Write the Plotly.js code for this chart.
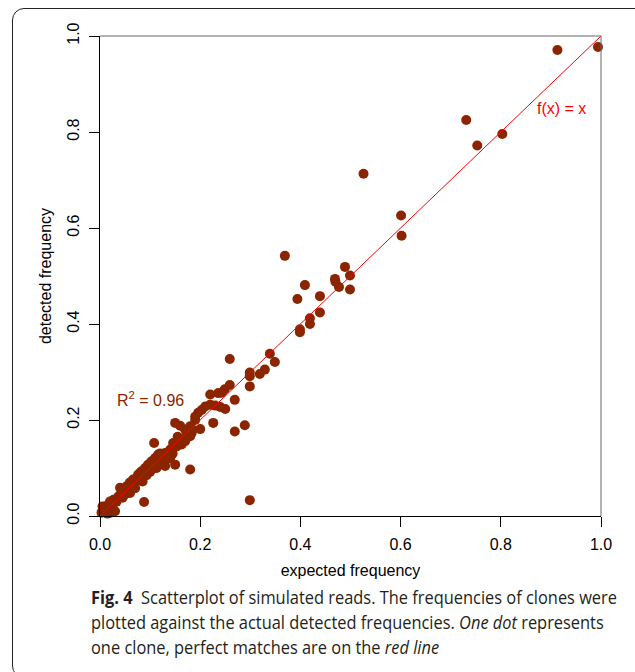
<!DOCTYPE html>
<html><head><meta charset="utf-8">
<script src="https://cdn.plot.ly/plotly-3.0.1.min.js"></script>
<style>
body{margin:0;background:#fff;}
#wrap{position:relative;width:635px;height:672px;overflow:hidden;background:#fff}
#frame{position:absolute;left:12px;top:8px;width:640px;height:670px;border:1px solid #222;border-radius:12px;box-sizing:border-box}
#chart{position:absolute;left:0;top:0;width:635px;height:672px}
#cap{position:absolute;left:91px;top:585px;font-family:'Open Sans','Noto Sans',sans-serif;font-size:18px;line-height:25px;color:#231f20;}
#cap div{white-space:nowrap;transform-origin:0 0;}
</style></head>
<body>
<div id="wrap">
<div id="frame"></div>
<div id="chart"></div>
<div id="cap">
<div class="ln"><b>Fig. 4</b>&nbsp; Scatterplot of simulated reads. The frequencies of clones were</div>
<div class="ln">plotted against the actual detected frequencies. <i>One dot</i> represents</div>
<div class="ln">one clone, perfect matches are on the <i>red line</i></div>
</div>
</div>
<script>
// expected frequency (x) and detected frequency (y) of each clone
const expected = [
 0.003,0.007,0.010,0.017,0.023,0.030,0.037,0.043,0.050,0.053,0.060,0.066,0.073,0.076,0.083,0.090,0.096,0.103,0.110,0.116,
 0.123,0.130,0.140,0.146,0.153,0.163,0.170,0.180,0.183,0.190,0.196,0.203,0.210,0.220,0.150,0.160,0.180,0.200,0.226,0.108,
 0.150,0.130,0.180,0.040,0.027,0.088,0.017,0.020,0.025,0.033,0.045,0.057,0.068,0.080,0.093,0.100,0.113,0.120,0.136,0.143,
 0.158,0.173,0.012,0.005,
 0.050,0.060,0.070,0.085,0.100,0.110,0.125,0.135,0.145,0.120,0.100,0.080,0.060,0.165,0.175,0.185,0.190,0.170,0.015,0.030,
 0.020,0.005,0.140,0.155,
 0.369,0.489,0.499,0.469,0.470,0.477,0.499,0.409,0.394,0.439,0.439,0.419,0.419,0.399,0.399,0.339,0.349,0.329,0.319,0.299,
 0.299,0.299,0.259,0.259,0.249,0.243,0.236,0.220,0.269,0.230,0.240,0.250,0.269,0.289,0.299,
 0.913,0.994,0.731,0.803,0.753,0.601,0.602,0.526
];
const detected = [
 0.007,0.014,0.020,0.024,0.027,0.034,0.041,0.048,0.055,0.062,0.069,0.076,0.079,0.086,0.093,0.100,0.107,0.114,0.121,0.128,
 0.124,0.131,0.138,0.152,0.145,0.149,0.156,0.166,0.173,0.207,0.215,0.221,0.228,0.232,0.194,0.188,0.187,0.181,0.194,0.152,
 0.107,0.104,0.097,0.059,0.034,0.029,0.010,0.007,0.018,0.030,0.038,0.050,0.062,0.074,0.085,0.092,0.100,0.110,0.130,0.140,
 0.155,0.165,0.018,0.010,
 0.045,0.048,0.058,0.072,0.095,0.100,0.110,0.125,0.130,0.130,0.110,0.090,0.070,0.160,0.170,0.180,0.200,0.180,0.005,0.010,
 0.030,0.020,0.120,0.165,
 0.542,0.519,0.501,0.494,0.488,0.477,0.472,0.481,0.452,0.458,0.424,0.412,0.400,0.389,0.383,0.338,0.321,0.305,0.296,0.299,
 0.291,0.270,0.327,0.273,0.264,0.257,0.256,0.253,0.242,0.230,0.227,0.223,0.176,0.189,0.033,
 0.971,0.977,0.825,0.796,0.772,0.626,0.584,0.713
];
const tickVals = [0, 0.2, 0.4, 0.6, 0.8, 1.0];
const tickText = ['0.0', '0.2', '0.4', '0.6', '0.8', '1.0'];
const identityX = [0, 1];
const identityY = [0, 1];

const dark = '#8B2500';
const traces = [
 {type:'scatter', mode:'markers', x:expected, y:detected, cliponaxis:false,
  marker:{size:10, color:dark, line:{width:0}}, hoverinfo:'skip'},
 {type:'scatter', mode:'lines', x:identityX, y:identityY, cliponaxis:false,
  line:{color:'#ff0000', width:1}, hoverinfo:'skip'}
];
const axisCommon = {
 range:[0,1], tickvals:tickVals, ticktext:tickText, ticks:'outside', ticklen:10, tickwidth:1,
 tickcolor:'#000', showline:true, linecolor:'#000', linewidth:1, showgrid:false, zeroline:false,
 tickfont:{size:16, color:'#000'}
};
const layout = {
 width:635, height:672,
 margin:{l:100, r:34, t:36, b:156},
 paper_bgcolor:'rgba(0,0,0,0)', plot_bgcolor:'rgba(0,0,0,0)',
 showlegend:false,
 font:{family:'Liberation Sans, Arial, sans-serif', size:16, color:'#000'},
 xaxis:Object.assign({}, axisCommon, {ticklabelstandoff:4, title:{text:'expected frequency', standoff:12, font:{size:16}}}),
 yaxis:Object.assign({}, axisCommon, {tickangle:-90, ticklabelstandoff:4, title:{text:'detected frequency', standoff:8, font:{size:16}}}),
 shapes:[
  {type:'line', xref:'paper', yref:'paper', x0:0, x1:1, y0:1, y1:1, line:{color:'#666', width:1}},
  {type:'line', xref:'paper', yref:'paper', x0:1, x1:1, y0:0, y1:1, line:{color:'#666', width:1}}
 ],
 annotations:[
  {x:0.921, y:0.849, xref:'x', yref:'y', text:'f(x) = x', showarrow:false, font:{size:16, color:'#ff0000'}},
  {x:0.03, y:0.244, xref:'x', yref:'y', xanchor:'left', text:'R<sup>2</sup> = 0.96', showarrow:false, font:{size:16, color:dark}}
 ]
};
Plotly.newPlot('chart', traces, layout, {displayModeBar:false, staticPlot:true});

// fit caption lines to the reference width
const lines = document.querySelectorAll('#cap .ln');
const w0 = lines[0].getBoundingClientRect().width;
const s = 526 / w0;
lines.forEach(l => { l.style.transform = 'scaleX(' + s + ')'; });
</script>
</body></html>
